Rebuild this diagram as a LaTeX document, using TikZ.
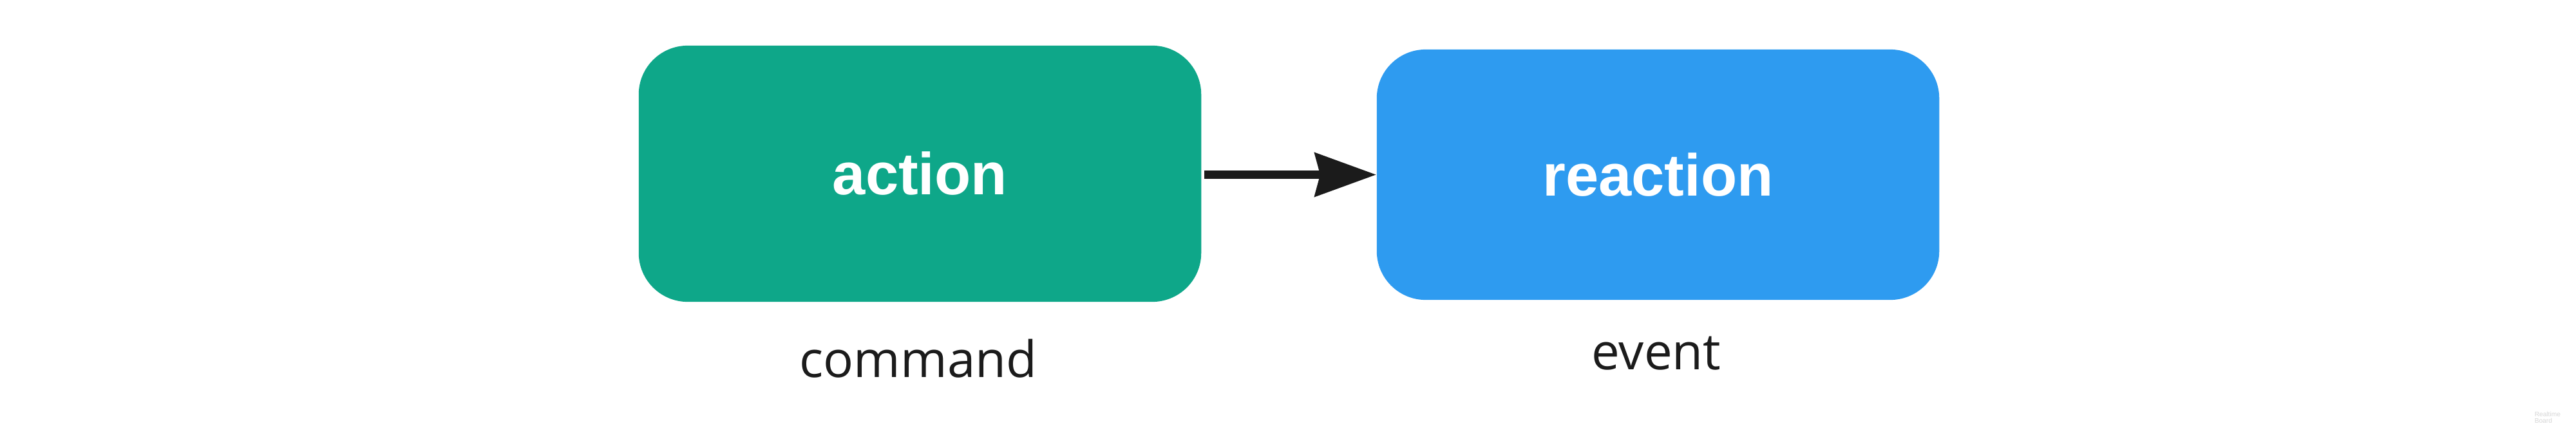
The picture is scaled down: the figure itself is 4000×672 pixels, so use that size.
\documentclass[tikz,border=0pt]{standalone}
\usepackage{fontspec}
\setmainfont{Liberation Sans}
\newfontfamily\labelfont{Open Sans}
\newfontfamily\boxfont{Liberation Sans}
\usetikzlibrary{arrows.meta}
\definecolor{actgreen}{RGB}{14,167,137}
\definecolor{reablue}{RGB}{46,155,240}
\definecolor{inkdark}{RGB}{27,27,27}
\definecolor{wmgray}{RGB}{214,214,214}
\tikzset{
  boxnode/.style={rectangle, rounded corners=0.76cm, minimum width=8.73cm,
    inner sep=0pt, text=white, font=\boxfont\bfseries\fontsize{26.2pt}{30pt}\selectfont},
  sublabel/.style={anchor=base, text=inkdark, inner sep=0pt,
    font=\labelfont\fontsize{22.2pt}{26pt}\selectfont},
  flowarrow/.style={draw=inkdark, line width=0.13cm,
    -{Stealth[length=0.95cm,width=0.67cm,inset=0.08cm]}},
  watermark/.style={anchor=north west, text=wmgray, inner sep=0pt, align=left,
    font=\fontsize{2.9pt}{2.9pt}\selectfont}
}
\begin{document}
\begin{tikzpicture}[x=0.01cm,y=-0.01cm]
\fill[white] (0,0) rectangle (4000,672);
\useasboundingbox (0,0) rectangle (4000,672);
\node[boxnode, fill=actgreen, minimum height=3.98cm] (act) at (1428.5,270) {action};
\node[boxnode, fill=reablue, minimum height=3.89cm] (rea) at (2574.5,271.5) {reaction};
\coordinate (astart) at (act.east |- rea.west);
\draw[flowarrow, shorten <=0.04cm] (astart) -- (rea.west);
\node[sublabel] (cmd) at (1426,586) {command};
\node[sublabel] (evt) at (2572,574) {event};
\node[watermark] (wm) at (3935,639) {Realtime\\Board};
\end{tikzpicture}
\end{document}
